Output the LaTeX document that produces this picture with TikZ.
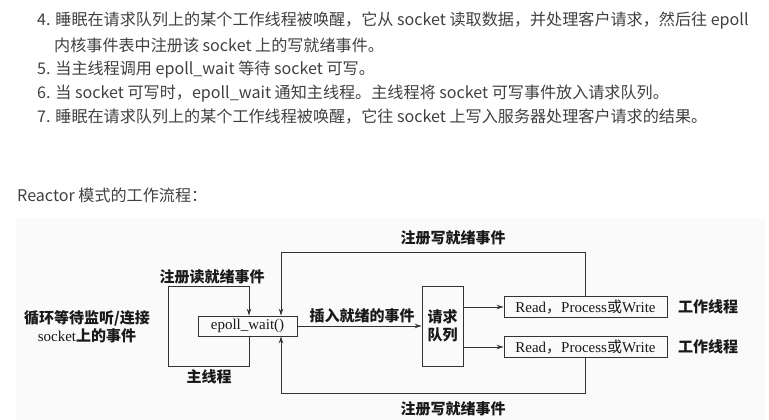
\documentclass[tikz,border=0pt]{standalone}
\usepackage{fontspec}
\setmainfont{Liberation Serif}
\newfontfamily\cjk{Noto Sans CJK SC}
\usetikzlibrary{positioning,arrows.meta}
\newcommand{\zh}[1]{{\cjk\bfseries #1}}

\begin{document}
\begin{tikzpicture}[x=1pt, y=-1pt, font=\fontsize{15}{18}\selectfont,
    para/.style={anchor=base west, inner sep=0pt, text=black!75, font=\cjk\fontsize{16.1}{20}\selectfont},
    box/.style={draw=black!80, line width=0.9pt, inner sep=0pt, text=black!90},
    lbl/.style={inner sep=0pt, text=black!90, font=\cjk\bfseries\fontsize{15}{18}\selectfont},
    arr/.style={draw=black!80, line width=0.9pt, -{Stealth[length=7pt,width=4.5pt]}}]
    \useasboundingbox (0,0) rectangle (769,420);

    % Text above the figure
    \node[para] (l4) at (37,26) {4. 睡眠在请求队列上的某个工作线程被唤醒，它从 socket 读取数据，并处理客户请求，然后往 epoll};
    \node[para] (l4b) at (54,52) {内核事件表中注册该 socket 上的写就绪事件。};
    \node[para] (l5) at (37,75) {5. 当主线程调用 epoll\_wait 等待 socket 可写。};
    \node[para] (l6) at (37,99) {6. 当 socket 可写时，epoll\_wait 通知主线程。主线程将 socket 可写事件放入请求队列。};
    \node[para] (l7) at (37,122) {7. 睡眠在请求队列上的某个工作线程被唤醒，它往 socket 上写入服务器处理客户请求的结果。};
    \node[para] (title) at (17,201) {Reactor 模式的工作流程：};

    % Figure background
    \fill[black!2] (16,218) rectangle (765,420);

    % Boxes
    \node[box, minimum width=99pt, minimum height=20pt] (epoll) at (247.5,326) {epoll\_wait()};
    \node[box, minimum width=41pt, minimum height=80pt, align=center] (queue) at (442.5,326) {\zh{请求}\\\zh{队列}};
    \node[box, minimum width=163pt, minimum height=21pt] (rpw1) at (585.5,307) {Read{\cjk ，}Process{\cjk 或}Write};
    \node[box, minimum width=163pt, minimum height=21pt] (rpw2) at (585.5,347) {Read{\cjk ，}Process{\cjk 或}Write};

    % Labels
    \node[text=black!90, align=center, inner sep=0pt] (wait) at (87,326.5) {\zh{循环等待监听/连接}\\socket\zh{上的事件}};
    \node[lbl] (lread) at (212,277) {注册读就绪事件};
    \node[lbl] (lmain) at (209,377) {主线程};
    \node[lbl] (lins) at (362,316) {插入就绪的事件};
    \node[lbl] (lwtop) at (453,238) {注册写就绪事件};
    \node[lbl] (lwbot) at (453,409) {注册写就绪事件};
    \node[lbl, anchor=west] (work1) at (678,307) {工作线程};
    \node[lbl, anchor=west] (work2) at (678,347) {工作线程};

    % Loop of the main thread
    \coordinate (mbl) at (168,366);
    \coordinate (mtl) at (168,286);
    \draw[arr] ([xshift=1.5pt]epoll.south) |- (mbl) -- (mtl) -| ([xshift=1.5pt]epoll.north);

    % Register write events
    \coordinate (wtop) at (281,252);
    \coordinate (wbot) at (281,393);
    \draw[arr] (rpw1.north) |- (wtop) -- (wtop |- epoll.north);
    \draw[arr] (rpw2.south) |- (wbot) -- (wbot |- epoll.south);

    % Events into the queue and out to the workers
    \draw[arr] (epoll.east) -- (queue.west);
    \draw[arr] (queue.east |- rpw1) -- (rpw1.west);
    \draw[arr] (queue.east |- rpw2) -- (rpw2.west);
\end{tikzpicture}
\end{document}
